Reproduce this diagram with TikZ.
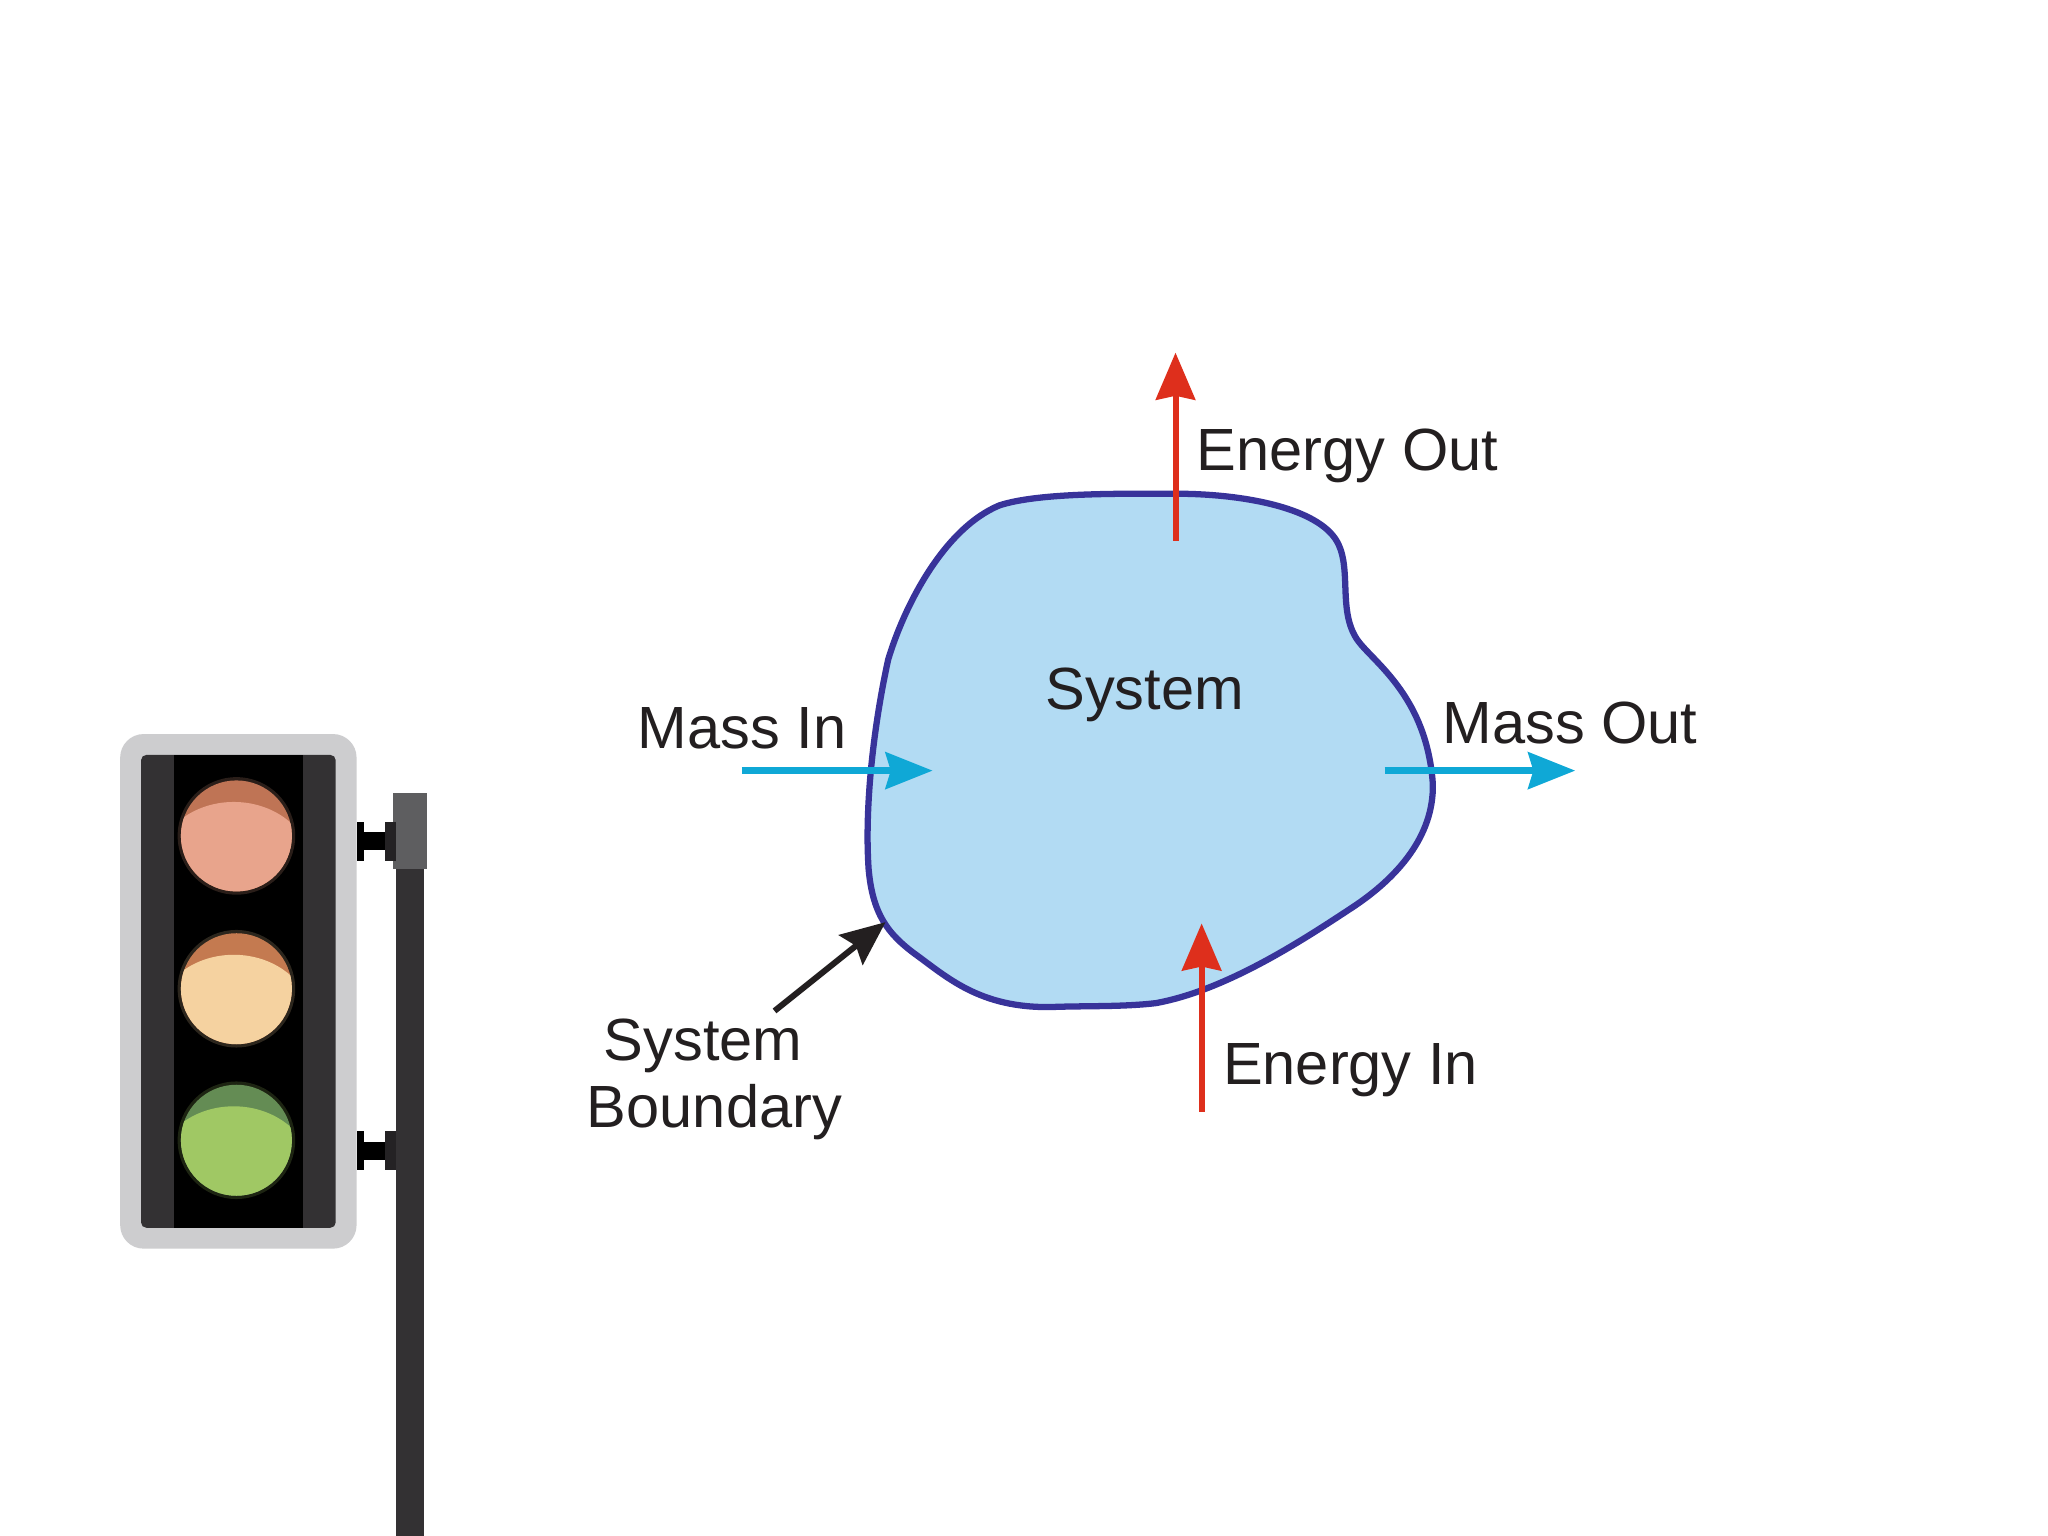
\documentclass[tikz,border=0pt]{standalone}
\usepackage{fontspec}
\setmainfont{Liberation Sans}
\usetikzlibrary{arrows.meta}
\definecolor{ink}{HTML}{231F20}
\definecolor{redarrow}{HTML}{DE2F1C}
\definecolor{cyanarrow}{HTML}{0FA8D6}
\definecolor{blobfill}{HTML}{B2DBF3}
\definecolor{blobline}{HTML}{38339A}
\definecolor{housing}{HTML}{CDCDCF}
\definecolor{panel}{HTML}{333133}
\definecolor{capgrey}{HTML}{5E5E60}
\tikzset{
  x=0.5pt,y=-0.5pt,
  label text/.style={font=\fontsize{22.8}{25.5}\selectfont,text=ink,inner sep=0pt,anchor=base west,align=left},
  red flow/.style={draw=redarrow,line width=2.3pt,-{Stealth[length=18pt,width=15pt,inset=1.5pt]}},
  cyan flow/.style={draw=cyanarrow,line width=2.5pt,-{Stealth[length=18pt,width=14pt,inset=2pt]}},
  black flow/.style={draw=ink,line width=2.3pt,-{Stealth[length=17pt,width=14.5pt,inset=2.5pt]}},
}
\newcommand{\lamp}[3]{%
  \fill[#2!18!black] (181,#1) circle[radius=45];
  \begin{scope}
    \clip (181,#1) circle[radius=42.5];
    \fill[#3] (181,#1) circle[radius=43];
    \fill[#2] (179,#1+25) ellipse[x radius=60,y radius=51];
  \end{scope}
}
\begin{document}
\begin{tikzpicture}
\useasboundingbox[fill=white] (0,0) rectangle (1568,1176);
% traffic light
\fill[panel] (303,665) rectangle (325,1176);
\fill[capgrey] (301,607) rectangle (327,665);
\foreach \yy in {644,881}{
  \fill[black] (273,\yy-7) rectangle (303,\yy+7);
  \fill[black] (273,\yy-15) rectangle (279,\yy+15);
  \fill[panel!70!black] (295,\yy-15) rectangle (303,\yy+15);
}
\fill[housing,rounded corners=9pt] (92,562) rectangle (273,956);
\fill[panel,rounded corners=2pt] (108,578) rectangle (257,940);
\fill[black] (133,578) rectangle (232,940);
\definecolor{lampa}{HTML}{E8A48C}\definecolor{shadea}{HTML}{BF7455}
\definecolor{lampb}{HTML}{F5D2A0}\definecolor{shadeb}{HTML}{C47A50}
\definecolor{lampc}{HTML}{A0C864}\definecolor{shadec}{HTML}{648C54}
\lamp{640}{lampa}{shadea}
\lamp{757}{lampb}{shadeb}
\lamp{873}{lampc}{shadec}
% system
\draw[fill=blobfill,draw=blobline,line width=2.4pt] (900,378)
  .. controls (950,378) and (1005,388) .. (1022,412)
  .. controls (1036,432) and (1024,465) .. (1038,488)
  .. controls (1048,505) and (1092,530) .. (1097,600)
  .. controls (1098,640) and (1070,672) .. (1035,695)
  .. controls (1000,718) and (940,758) .. (885,768)
  .. controls (860,771) and (830,770) .. (805,771)
  .. controls (750,772) and (725,748) .. (700,730)
  .. controls (680,715) and (668,700) .. (665,665)
  .. controls (662,620) and (668,560) .. (680,505)
  .. controls (692,465) and (722,405) .. (765,387)
  .. controls (795,377) and (860,378) .. (900,378) -- cycle;
\node[label text] (sys) at (800,543) {System};
\node[label text] (mi) at (488,573) {Mass In};
\node[label text] (mo) at (1104,569) {Mass Out};
\node[label text] (eo) at (916,360) {Energy Out};
\node[label text] (ei) at (936,830) {Energy In};
\node[label text,anchor=north west] (sb) at (449,780) {\hspace*{6.5pt}System\\Boundary};
\coordinate (mia) at (568,590); \coordinate (mib) at (714,590);
\coordinate (moa) at (1060,590); \coordinate (mob) at (1206,590);
\coordinate (eoa) at (900,414); \coordinate (eob) at (900,270);
\coordinate (eia) at (920,851); \coordinate (eib) at (920,707);
\coordinate (sba) at (593,774); \coordinate (sbb) at (678,706);
\draw[cyan flow] (mia) -- (mib);
\draw[cyan flow] (moa) -- (mob);
\draw[red flow] (eoa) -- (eob);
\draw[red flow] (eia) -- (eib);
\draw[black flow] (sba) -- (sbb);
\end{tikzpicture}
\end{document}
